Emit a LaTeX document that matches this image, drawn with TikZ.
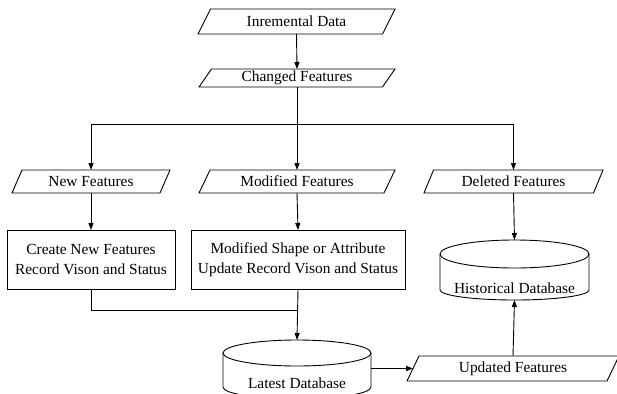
\documentclass[tikz,border=0pt]{standalone}
\usepackage{fontspec}
\setmainfont{Liberation Serif}
\usetikzlibrary{arrows.meta,calc}
\newcommand\paraoutline[2]{\draw[lw] ([xshift=#2]#1.north west) -- (#1.north east) -- ([xshift=-#2]#1.south east) -- (#1.south west) -- cycle;}
\begin{document}
\begin{tikzpicture}[x=1pt,y=-1pt,
  lw/.style={line width=0.9pt},
  para/.style={inner sep=0pt, outer sep=0pt},
  procbox/.style={draw, lw, inner sep=0pt, outer sep=0pt, align=center},
  dbbox/.style={inner sep=0pt, outer sep=0pt},
  conn/.style={lw, -{Triangle[length=7pt,width=5pt]}},
  plain/.style={lw},
  every node/.style={font=\fontsize{15.4}{19.5}\selectfont}]
\useasboundingbox (0,0) rectangle (617,393);

% parallelograms
\node[para, minimum width=197pt, minimum height=25pt] (inc) at (296.5,21.5) {Inremental Data};
\paraoutline{inc}{12.5pt}
\node[para, minimum width=196pt, minimum height=18pt] (chg) at (297,78) {Changed Features};
\paraoutline{chg}{12.5pt}
\node[para, minimum width=158pt, minimum height=23pt] (new) at (91,181.5) {New Features};
\paraoutline{new}{10pt}
\node[para, minimum width=196pt, minimum height=23pt] (mod) at (297,181.5) {Modified Features};
\paraoutline{mod}{11pt}
\node[para, minimum width=179pt, minimum height=23pt] (del) at (513.5,181.5) {Deleted Features};
\paraoutline{del}{9.5pt}
\node[para, minimum width=212pt, minimum height=25pt] (upd) at (513,368.5) {Updated Features};
\paraoutline{upd}{12pt}
\coordinate (updin) at ($(upd.west)+(6pt,0)$);

% process boxes
\node[procbox, minimum width=168pt, minimum height=59pt] (create) at (91,259.5) {Create New Features\\Record Vison and Status};
\node[procbox, minimum width=214pt, minimum height=59pt] (modbox) at (298,259.5) {Modified Shape or Attribute\\Update Record Vison and Status};

% databases
\node[dbbox, minimum width=149pt, minimum height=60pt] (hist) at (514.5,270) {};
\draw[lw] ([yshift=-14pt]hist.north) ellipse [x radius=74.5pt, y radius=14pt];
\draw[lw] ([yshift=-14pt]hist.north west) -- ([yshift=10pt]hist.south west)
  arc[start angle=180, end angle=360, x radius=74.5pt, y radius=10pt] -- ([yshift=-14pt]hist.north east);
\node at ([yshift=12pt]hist.south) {Historical Database};

\node[dbbox, minimum width=148pt, minimum height=59pt] (latest) at (297,369.5) {};
\draw[lw] ([yshift=-13pt]latest.north) ellipse [x radius=74pt, y radius=13pt];
\draw[lw] ([yshift=-13pt]latest.north west) -- ([yshift=12pt]latest.south west)
  arc[start angle=180, end angle=360, x radius=74pt, y radius=12pt] -- ([yshift=-13pt]latest.north east);
\node at ([yshift=15.5pt]latest.south) {Latest Database};

% connectors
\coordinate (split) at (297,124);
\coordinate (join) at (297,310);
\draw[conn] (inc.south) -- (chg.north);
\draw[plain] (chg.south) -- (split);
\draw[conn] (split) -| (new.north);
\draw[conn] (split) -- (mod.north);
\draw[conn] (split) -| (del.north);
\draw[conn] (new.south) -- (create.north);
\draw[conn] (mod.south) -- (modbox.north);
\draw[conn] (del.south) -- (hist.north);
\draw[plain] (create.south) |- (join);
\draw[conn] (modbox.south) -- (latest.north);
\draw[conn] (latest.east |- updin) -- (updin);
\draw[conn] (upd.north) -- (hist.south);
\end{tikzpicture}
\end{document}
